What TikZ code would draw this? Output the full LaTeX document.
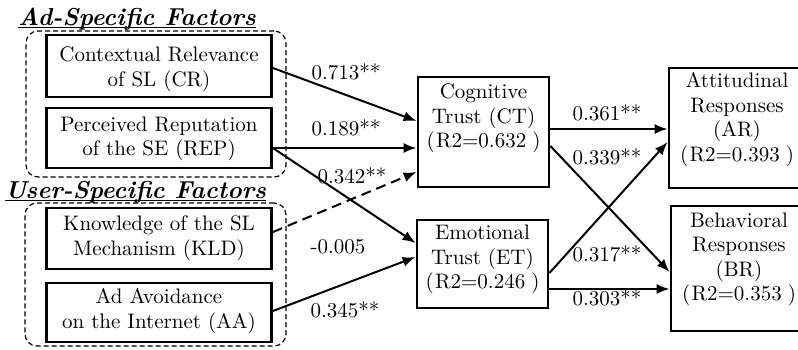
\documentclass[tikz,border=0pt]{standalone}
\usepackage{fontspec}
\setmainfont{lmroman10-regular.otf}[BoldFont=lmroman10-bold.otf,ItalicFont=lmroman10-italic.otf,BoldItalicFont=lmroman10-bolditalic.otf]
\usetikzlibrary{arrows.meta,calc}
\newcommand{\rsq}[1]{(\kern1.5pt R2=#1\kern6pt)}
\begin{document}
\begin{tikzpicture}[x=1pt,y=-1pt,
  box/.style={draw,line width=2.8pt,inner sep=0pt},
  grp/.style={draw,line width=1.2pt,dash pattern=on 5pt off 3pt,rounded corners=12pt,inner sep=0pt},
  txt/.style={align=center,inner sep=0pt,font=\fontsize{21}{24.5}\selectfont},
  lbl/.style={inner sep=0pt,font=\fontsize{21}{24.5}\selectfont},
  ttl/.style={inner sep=0pt,font=\fontsize{24.5}{28}\selectfont\bfseries\itshape},
  arr/.style={line width=2pt,-{Latex[length=13pt,width=10pt]}},
  darr/.style={arr,dash pattern=on 10pt off 6pt}]
\useasboundingbox (0,0) rectangle (798,349);
\clip (0,0) rectangle (798,349);
% groups
\node[grp,minimum width=260pt,minimum height=146pt] (g1) at (156,104) {};
\node[grp,minimum width=261pt,minimum height=143pt] (g2) at (155.5,274.5) {};
% titles
\node[ttl,anchor=base west] (t1) at (18,25) {Ad-Specific Factors};
\node[ttl,anchor=base west] (t2) at (5,198) {User-Specific Factors};
\draw[line width=1.2pt] ($(t1.base west)+(0,2.5)$) -- ($(t1.base east)+(0,2.5)$);
\draw[line width=1.2pt] ($(t2.base west)+(0,2.5)$) -- ($(t2.base east)+(0,2.5)$);
% left boxes
\node[box,minimum width=225pt,minimum height=62pt] (cr) at (159,66) {};
\node[box,minimum width=225pt,minimum height=60pt] (rep) at (159,138) {};
\node[box,minimum width=225pt,minimum height=61pt] (kld) at (159,238.5) {};
\node[box,minimum width=225pt,minimum height=59pt] (aa) at (159,312.5) {};
\node[txt] (crt) at (159,69) {Contextual Relevance\\of SL (CR)};
\node[txt] (rept) at (159,139) {Perceived Reputation\\of the SE (REP)};
\node[txt] (kldt) at (159,238) {Knowledge of the SL\\Mechanism (KLD)};
\node[txt] (aat) at (159,311) {Ad Avoidance\\on the Internet (AA)};
% middle boxes
\node[box,minimum width=131pt,minimum height=110pt] (ct) at (483.5,132) {};
\node[box,minimum width=131pt,minimum height=88pt] (et) at (482.5,264) {};
\node[txt] (ctt) at (483.5,118.5) {Cognitive\\Trust (CT)\\\rsq{0.632}};
\node[txt] (ett) at (482.5,259.5) {Emotional\\Trust (ET)\\\rsq{0.246}};
% right boxes
\node[box,minimum width=136pt,minimum height=120pt] (ar) at (737,128) {};
\node[box,minimum width=136pt,minimum height=125pt] (br) at (739,268.5) {};
\node[txt] (art) at (737,119.5) {Attitudinal\\Responses\\(AR)\\\rsq{0.393}};
\node[txt] (brt) at (739,259.5) {Behavioral\\Responses\\(BR)\\\rsq{0.353}};
% arrows
\draw[arr] ($(cr.east)+(0,2)$) -- ($(ct.west)+(0,-11)$);
\draw[arr] ($(rep.east)+(0,10)$) -- ($(ct.west)+(0,16)$);
\draw[arr] ($(rep.east)+(0,10)$) -- ($(et.west)+(0,-21)$);
\draw[darr] ($(kld.east)+(0,-6.5)$) -- ($(ct.west)+(0,40)$);
\draw[arr] ($(aa.east)+(0,-1.5)$) -- ($(et.west)+(0,-7)$);
\draw[arr] ($(ct.east)+(0,-3)$) -- ($(ar.west)+(0,1)$);
\draw[arr] ($(ct.east)+(0,14)$) -- ($(br.west)+(0,3.5)$);
\draw[arr] ($(et.east)+(0,9)$) -- ($(ar.west)+(0,14)$);
\draw[arr] ($(et.east)+(0,25)$) -- ($(br.west)+(0,20.5)$);
% labels
\node[lbl] (l1) at (346,72) {0.713**};
\node[lbl] (l2) at (346,128) {0.189**};
\node[lbl] (l3) at (352,176) {0.342**};
\node[lbl] (l4) at (338,247) {-0.005};
\node[lbl] (l5) at (345,310) {0.345**};
\node[lbl] (l6) at (607,113) {0.361**};
\node[lbl] (l7) at (607,157) {0.339**};
\node[lbl] (l8) at (607,254) {0.317**};
\node[lbl] (l9) at (607,298) {0.303**};
\end{tikzpicture}
\end{document}
